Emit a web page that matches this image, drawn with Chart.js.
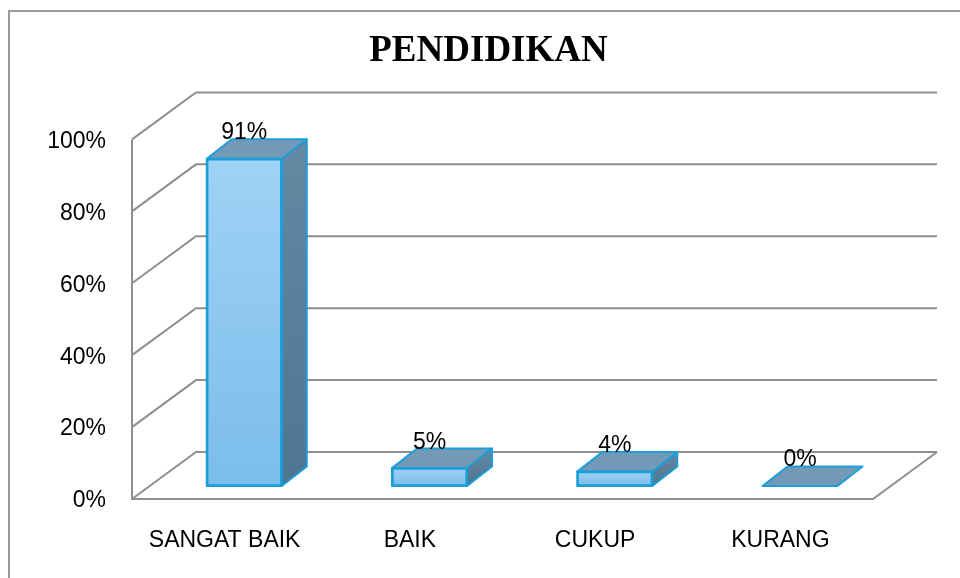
<!DOCTYPE html>
<html>
<head>
<meta charset="utf-8">
<script src="https://cdn.jsdelivr.net/npm/chart.js@4"></script>
<style>
  html, body { margin: 0; padding: 0; background: #ffffff; }
  canvas { display: block; }
</style>
</head>
<body>
<canvas id="c" width="960" height="578"></canvas>
<script>
// ---- data ----
const chartTitle = 'PENDIDIKAN';
const categories = ['SANGAT BAIK', 'BAIK', 'CUKUP', 'KURANG'];
const values = [91, 5, 4, 0];
const valueLabels = ['91%', '5%', '4%', '0%'];
const yTickValues = [0, 20, 40, 60, 80, 100];

// ---- 3D geometry (styling) ----
const WALL_DX = 64, WALL_DY = -47;   // depth of the walls/floor
const BAR_DX = 25, BAR_DY = -19.5;   // depth of each bar
const GRID_COLOR = '#8f8f8f';
const BAR_EDGE = '#1c9ed8';

const wallsPlugin = {
  id: 'walls3d',
  beforeDraw(chart) {
    const ctx = chart.ctx;
    ctx.save();
    ctx.strokeStyle = '#9a9a9a';
    ctx.lineWidth = 2;
    ctx.beginPath();
    ctx.moveTo(9, 578);
    ctx.lineTo(9, 11);
    ctx.lineTo(960, 11);
    ctx.stroke();
    ctx.restore();
  },
  beforeDatasetsDraw(chart) {
    const ctx = chart.ctx;
    const ys = chart.scales.y;
    const L = chart.chartArea.left, R = chart.chartArea.right;
    ctx.save();
    ctx.strokeStyle = GRID_COLOR;
    ctx.lineWidth = 2;
    ctx.lineJoin = 'miter';
    yTickValues.forEach(t => {
      const yf = ys.getPixelForValue(t);
      ctx.beginPath();
      ctx.moveTo(L, yf);
      ctx.lineTo(L + WALL_DX, yf + WALL_DY);
      ctx.lineTo(R + WALL_DX, yf + WALL_DY);
      ctx.stroke();
    });
    const y0 = ys.getPixelForValue(0), yTop = ys.getPixelForValue(100);
    ctx.beginPath();
    ctx.moveTo(L, yTop);
    ctx.lineTo(L, y0);
    ctx.lineTo(R, y0);
    ctx.lineTo(R + WALL_DX, y0 + WALL_DY);
    ctx.stroke();
    ctx.restore();
  },
  afterDatasetsDraw(chart) {
    const ctx = chart.ctx;
    const meta = chart.getDatasetMeta(0);
    ctx.save();
    ctx.lineWidth = 2;
    ctx.lineJoin = 'round';
    ctx.strokeStyle = BAR_EDGE;
    meta.data.forEach((el, i) => {
      const p = el.getProps(['x', 'y', 'base', 'width'], true);
      const l = p.x - p.width / 2, r = p.x + p.width / 2;
      const top = p.y, base = p.base;
      // side face
      if (base - top > 0.5) {
        ctx.beginPath();
        ctx.moveTo(r, top);
        ctx.lineTo(r + BAR_DX, top + BAR_DY);
        ctx.lineTo(r + BAR_DX, base + BAR_DY);
        ctx.lineTo(r, base);
        ctx.closePath();
        const g = ctx.createLinearGradient(0, top + BAR_DY, 0, base);
        g.addColorStop(0, '#6588a3');
        g.addColorStop(1, '#4f7591');
        ctx.fillStyle = g;
        ctx.fill();
        ctx.stroke();
      }
      // top face
      ctx.beginPath();
      ctx.moveTo(l, top);
      ctx.lineTo(l + BAR_DX, top + BAR_DY);
      ctx.lineTo(r + BAR_DX, top + BAR_DY);
      ctx.lineTo(r, top);
      ctx.closePath();
      ctx.fillStyle = '#7399b6';
      ctx.fill();
      ctx.stroke();
      // front edge redraw
      if (base - top > 0.5) {
        ctx.strokeRect(l, top, r - l, base - top);
      }
      // value label
      ctx.fillStyle = '#000000';
      ctx.font = '23px "Liberation Sans", Arial, sans-serif';
      ctx.textAlign = 'center';
      ctx.textBaseline = 'alphabetic';
      ctx.fillText(valueLabels[i], p.x, top + BAR_DY);
    });
    ctx.restore();
  }
};

new Chart(document.getElementById('c'), {
  type: 'bar',
  data: {
    labels: categories,
    datasets: [{
      data: values.map((v, i) => ({ x: i, y: v })),
      xAxisID: 'xb',
      yAxisID: 'yb',
      barThickness: 75,
      borderWidth: 2,
      borderSkipped: false,
      borderColor: BAR_EDGE,
      backgroundColor: (c) => {
        const ch = c.chart;
        const s = ch.scales.yb;
        if (!s || !c.raw) return '#8cc6ef';
        const t = s.getPixelForValue(c.raw.y);
        const b = s.getPixelForValue(0);
        if (!(b - t > 1)) return '#8cc6ef';
        const g = ch.ctx.createLinearGradient(0, t, 0, b);
        g.addColorStop(0, '#9fd2f6');
        g.addColorStop(1, '#7bbdea');
        return g;
      }
    }]
  },
  options: {
    responsive: false,
    animation: false,
    devicePixelRatio: 1,
    layout: { padding: { left: 17, right: 0, top: 0, bottom: 0 } },
    plugins: {
      legend: { display: false },
      tooltip: { enabled: false },
      title: {
        display: true,
        text: chartTitle,
        color: '#000000',
        font: { family: '"Liberation Serif", "Times New Roman", serif', size: 37, weight: 'bold' },
        padding: { top: 29, bottom: 66 }
      }
    },
    scales: {
      x: {
        type: 'category',
        offset: true,
        grid: { display: false },
        border: { display: false },
        ticks: {
          color: '#000000',
          font: { family: '"Liberation Sans", Arial, sans-serif', size: 23 },
          padding: 20,
          maxRotation: 0,
          autoSkip: false
        },
        afterFit: (s) => { s.height = 79; }
      },
      xb: {
        type: 'linear',
        display: false,
        offset: false,
        min: -0.606,
        max: 3.394
      },
      y: {
        type: 'linear',
        position: 'left',
        min: 0,
        max: 100,
        grid: { display: false },
        border: { display: false },
        ticks: {
          stepSize: 20,
          color: '#000000',
          padding: 18,
          labelOffset: 2,
          font: { family: '"Liberation Sans", Arial, sans-serif', size: 23 },
          callback: (v) => v + '%'
        },
        afterFit: (s) => { s.width = 115; }
      },
      yr: {
        type: 'linear',
        position: 'right',
        min: 0,
        max: 100,
        grid: { display: false },
        border: { display: false },
        ticks: { display: false },
        afterFit: (s) => { s.width = 87; }
      },
      yb: {
        type: 'linear',
        display: false,
        min: -3.62,
        max: 96.38
      }
    }
  },
  plugins: [wallsPlugin]
});
</script>
</body>
</html>
